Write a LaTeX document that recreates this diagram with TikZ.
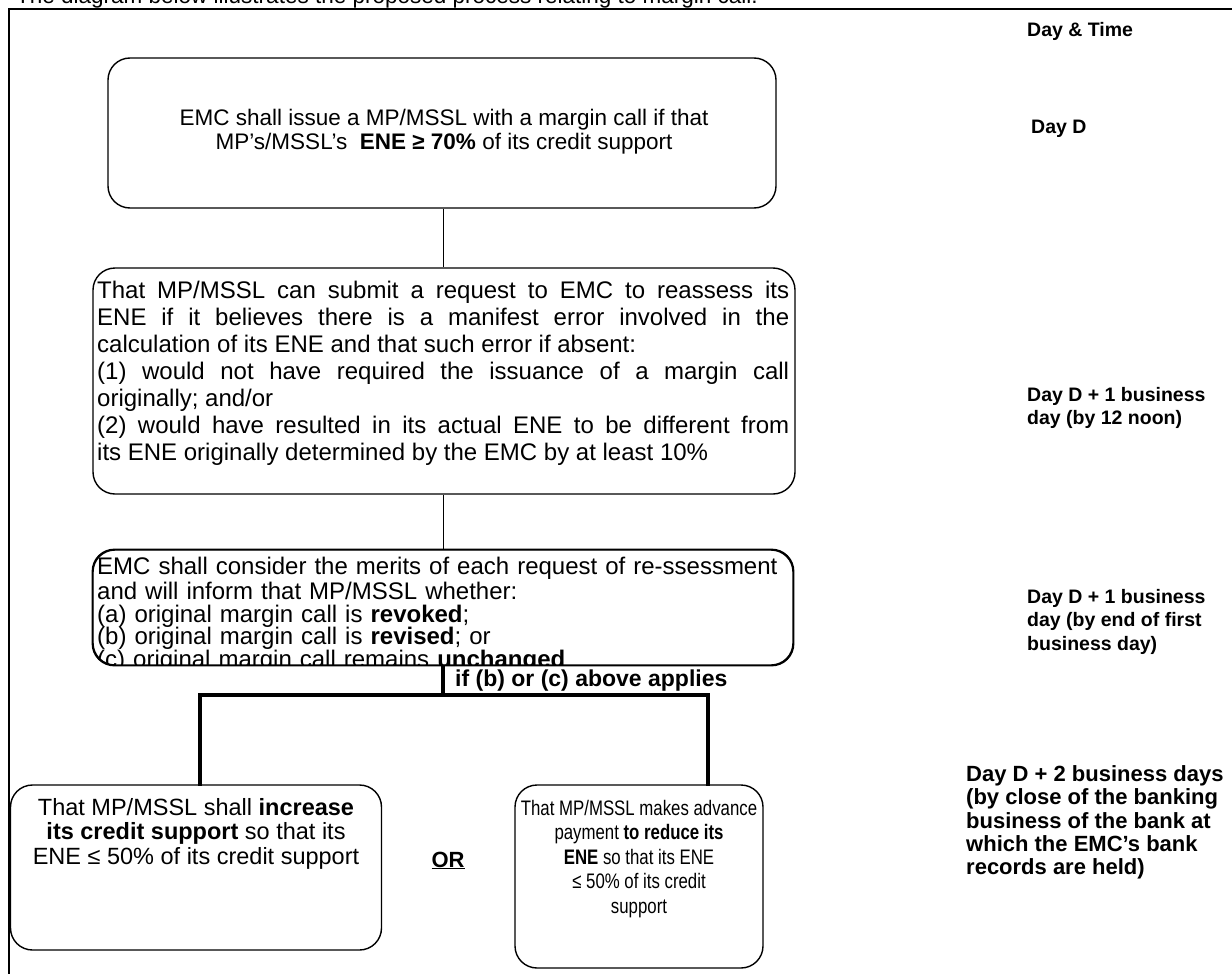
\documentclass[tikz,border=0pt]{standalone}
\usepackage{fontspec}
\setmainfont{Liberation Sans}
\newfontfamily\narrowfam{Liberation Sans}[FakeStretch=0.8]
\newcommand\boxonetxt{\fontsize{22.5}{23}\selectfont}
\newcommand\boxtwotxt{\fontsize{24}{27}\selectfont}
\newcommand\boxthreetxt{\fontsize{24}{22.75}\selectfont}
\newcommand\boxfourtxt{\fontsize{23.5}{24.5}\selectfont}
\newcommand\boxfivetxt{\narrowfam\fontsize{21}{24.5}\selectfont}
\newcommand\lbltxt{\bfseries\fontsize{19.5}{23.3}\selectfont}
\newcommand\lblbigtxt{\bfseries\fontsize{22}{23.3}\selectfont}
\begin{document}
\begin{tikzpicture}[x=1pt,y=-1pt,
  flowbox/.style={draw, line width=1.4pt, rounded corners=22pt, inner sep=0pt, fill=white},
  boxtext/.style={inner sep=0pt},
  daylabel/.style={inner sep=0pt, anchor=north west, align=left, font=\lbltxt},
  thinline/.style={line width=1pt},
  thickline/.style={line width=3.6pt}]
\useasboundingbox (0,0) rectangle (1232,974);
% title (cut off at top)
\node (title) [inner sep=0pt, anchor=base west, font=\fontsize{22.5}{26}\selectfont] at (16,4) {The diagram below illustrates the proposed process relating to margin call.};
% frame
\draw[line width=1.4pt] (9,980) -- (9,9) -- (1240,9);
% boxes
\node (b1) [flowbox, minimum width=668pt, minimum height=150pt] at (442,133) {};
\node (b2) [flowbox, minimum width=702pt, minimum height=226pt] at (444,381) {};
\node (b3) [flowbox, minimum width=700pt, minimum height=115pt] at (443,607.5) {};
\node (b4) [flowbox, minimum width=371pt, minimum height=165pt] at (196,867.5) {};
\node (b5) [flowbox, minimum width=248pt, minimum height=183pt] at (639,876.5) {};
% texts
\node (t1) [boxtext, font=\boxonetxt, anchor=north, align=center] at (444,108.9) {\strut EMC shall issue a MP/MSSL with a margin call if that\\ MP’s/MSSL’s\ \ \textbf{ENE ≥ 70\%} of its credit support};
\node (t2) [boxtext, font=\boxtwotxt, anchor=north west, text width=692pt, align=justify] at (97,279) {\strut That MP/MSSL can submit a request to EMC to reassess its\linebreak ENE if it believes there is a manifest error involved in the\linebreak calculation of its ENE and that such error if absent:\\ (1) would not have required the issuance of a margin call\linebreak originally; and/or\\ (2) would have resulted in its actual ENE to be different from\linebreak its ENE originally determined by the EMC by at least 10\%};
\begin{scope}
\clip[rounded corners=22pt] (b3.south west) rectangle (b3.north east);
\node (t3) [boxtext, font=\boxthreetxt, anchor=north west, text width=700pt, align=left] at (97,556.5) {\strut EMC shall consider the merits of each request of re-ssessment\\ and will inform that MP/MSSL whether:\\ (a) original margin call is \textbf{revoked};\\ (b) original margin call is \textbf{revised}; or\\ \smash{(c) original margin call remains \textbf{unchanged}}};
\end{scope}
\draw[line width=1.4pt, rounded corners=22pt] (b3.south west) rectangle (b3.north east);
\node (t4) [boxtext, font=\boxfourtxt, anchor=north, align=center] at (196,798) {\strut That MP/MSSL shall \textbf{increase}\\ \textbf{its credit support} so that its\\ ENE ≤ 50\% of its credit support};
\node (t5) [boxtext, font=\boxfivetxt, anchor=north, align=center] at (639,798) {\strut That MP/MSSL makes advance\\ payment \textbf{to reduce its}\\ \textbf{ENE} so that its ENE\\ ≤ 50\% of its credit\\ support};
% connectors
\draw[thinline] (b1.south -| 443,0) -- (b2.north -| 443,0);
\draw[thinline] (b2.south -| 443,0) -- (b3.north -| 443,0);
\coordinate (jl) at (200,695);
\coordinate (jr) at (708,695);
\draw[thickline] (b3.south -| 443,0) -- (jl -| 443,0);
\draw[thickline, line cap=rect] (b4.north -| jl) -- (jl) -- (jr) -- (b5.north -| jr);
% labels
\node (cond) [inner sep=0pt, anchor=base west, font=\bfseries\fontsize{23}{26}\selectfont] at (455,686) {if (b) or (c) above applies};
\node (or) [inner sep=0pt, anchor=base, font=\bfseries\fontsize{22}{26}\selectfont] at (448,867) {\underline{OR}};
\node (dt) [daylabel] at (1027,20) {\strut Day \& Time};
\node (d0) [daylabel] at (1031,117) {\strut Day D};
\node (d1) [daylabel] at (1027,385) {\strut Day D + 1 business\\ day (by 12 noon)};
\node (d1b) [daylabel] at (1027,587) {\strut Day D + 1 business\\ day (by end of first\\ business day)};
\node (d2) [daylabel, font=\lblbigtxt] at (966,765) {\strut Day D + 2 business days\\ (by close of the banking\\ business of the bank at\\ which the EMC’s bank\\ records are held)};
\end{tikzpicture}
\end{document}
